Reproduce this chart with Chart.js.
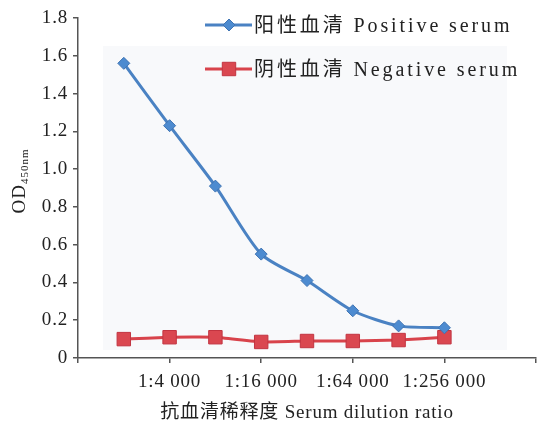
<!DOCTYPE html>
<html>
<head>
<meta charset="utf-8">
<script src="https://cdn.jsdelivr.net/npm/chart.js@4"></script>
<style>
  html, body { margin: 0; padding: 0; background: #fff; }
  #wrap { width: 537px; height: 425px; }
</style>
</head>
<body>
<div id="wrap"><canvas id="c"></canvas></div>
<script>
const dilutions = ['1:2 000', '1:4 000', '1:8 000', '1:16 000', '1:32 000', '1:64 000', '1:128 000', '1:256 000'];
const positiveOD = [1.56, 1.23, 0.91, 0.55, 0.41, 0.25, 0.17, 0.16];
const negativeOD = [0.10, 0.11, 0.11, 0.085, 0.09, 0.09, 0.095, 0.11];
const xTickLabels = ['1:4 000', '1:16 000', '1:64 000', '1:256 000'];
const yTicks = [0, 0.2, 0.4, 0.6, 0.8, 1.0, 1.2, 1.4, 1.6, 1.8];
const seriesNames = ['阳性血清 Positive serum', '阴性血清 Negative serum'];

const serif = "'Liberation Serif', 'Noto Sans CJK SC', serif";
const axisColor = '#555';
const blue = '#4a82c3';
const red = '#d8434b';

const pts = arr => arr.map((v, i) => ({ x: i + 1, y: v }));

// faint panel behind the plot (as in the scanned figure)
const panelBg = {
  id: 'panelBg',
  beforeDraw(chart) {
    const ctx = chart.ctx;
    ctx.letterSpacing = '0.8px';
    ctx.save();
    ctx.fillStyle = '#f8f9fb';
    ctx.fillRect(103, 46, 404, 304);
    ctx.restore();
  }
};

const legendBox = {
  id: 'legendBox',
  afterDraw(chart) {
    const ctx = chart.ctx;
    const rows = [25, 69];
    ctx.save();
    chart.data.datasets.forEach((ds, i) => {
      const y = rows[i];
      ctx.strokeStyle = ds.borderColor;
      ctx.lineWidth = 3;
      ctx.beginPath(); ctx.moveTo(205, y); ctx.lineTo(252, y); ctx.stroke();
      ctx.fillStyle = ds.pointBackgroundColor;
      ctx.strokeStyle = ds.pointBorderColor;
      ctx.lineWidth = 1;
      Chart.helpers.drawPoint(ctx, { pointStyle: ds.pointStyle, radius: ds.pointRadius, borderWidth: 1 }, 229, y);
      ctx.fillStyle = '#222';
      ctx.font = '20px ' + serif;
      ctx.letterSpacing = '2.9px';
      ctx.textBaseline = 'middle';
      ctx.fillText(seriesNames[i], 254, y + 2);
    });
    ctx.restore();
  }
};

const yTitle = {
  id: 'yTitle',
  afterDraw(chart) {
    const ctx = chart.ctx;
    ctx.save();
    ctx.letterSpacing = '1px';
    ctx.translate(25, 181);
    ctx.rotate(-Math.PI / 2);
    ctx.fillStyle = '#222';
    ctx.textBaseline = 'alphabetic';
    ctx.font = '19px ' + serif;
    const w1 = ctx.measureText('OD').width;
    ctx.font = '11px ' + serif;
    const w2 = ctx.measureText('450nm').width;
    const x0 = -(w1 + w2) / 2;
    ctx.font = '19px ' + serif;
    ctx.fillText('OD', x0, 0);
    ctx.font = '11px ' + serif;
    ctx.fillText('450nm', x0 + w1, 3);
    ctx.restore();
  }
};

new Chart(document.getElementById('c'), {
  type: 'line',
  data: {
    datasets: [
      {
        label: seriesNames[0],
        data: pts(positiveOD),
        borderColor: blue,
        borderWidth: 3,
        tension: 0.25,
        pointStyle: 'rectRot',
        pointRadius: 6,
        pointBackgroundColor: '#4d8bd0',
        pointBorderColor: '#3f74b3',
        pointBorderWidth: 1
      },
      {
        label: seriesNames[1],
        data: pts(negativeOD),
        borderColor: red,
        borderWidth: 3,
        tension: 0.1,
        pointStyle: 'rect',
        pointRadius: 9.5,
        pointBackgroundColor: '#da4750',
        pointBorderColor: '#c23440',
        pointBorderWidth: 1
      }
    ]
  },
  options: {
    responsive: true,
    maintainAspectRatio: false,
    animation: false,
    layout: { autoPadding: false, padding: { top: 18, right: 1, left: 0, bottom: 0 } },
    plugins: { legend: { display: false }, tooltip: { enabled: false } },
    scales: {
      x: {
        type: 'linear',
        min: 0,
        max: 10,
        afterBuildTicks(scale) {
          scale.ticks = [0, 2, 4, 6, 8, 10].map(v => ({ value: v }));
        },
        afterFit(scale) {
          scale.height = 67;
          scale.paddingLeft = 0;
          scale.paddingRight = 0;
        },
        border: { color: axisColor, width: 1.5 },
        grid: { drawOnChartArea: false, drawTicks: true, tickLength: 5, color: axisColor, lineWidth: 1.5 },
        ticks: {
          padding: 8,
          maxRotation: 0,
          autoSkip: false,
          color: '#222',
          font: { family: serif, size: 19 },
          callback(v) {
            const d = dilutions[v - 1];
            return xTickLabels.includes(d) ? d : '';
          }
        },
        title: {
          display: true,
          text: '抗血清稀释度 Serum dilution ratio',
          color: '#222',
          font: { family: serif, size: 19 },
          padding: { top: 0, bottom: 1 }
        }
      },
      y: {
        min: 0,
        max: 1.8,
        afterBuildTicks(scale) {
          scale.ticks = yTicks.map(v => ({ value: v }));
        },
        afterFit(scale) { scale.width = 78; },
        border: { color: axisColor, width: 1.5 },
        grid: { drawOnChartArea: false, drawTicks: true, tickLength: 5, color: axisColor, lineWidth: 1.5 },
        ticks: {
          padding: 5,
          color: '#222',
          font: { family: serif, size: 19 },
          callback(v) { return v === 0 ? '0' : v.toFixed(1); }
        }
      }
    }
  },
  plugins: [panelBg, legendBox, yTitle]
});
</script>
</body>
</html>
